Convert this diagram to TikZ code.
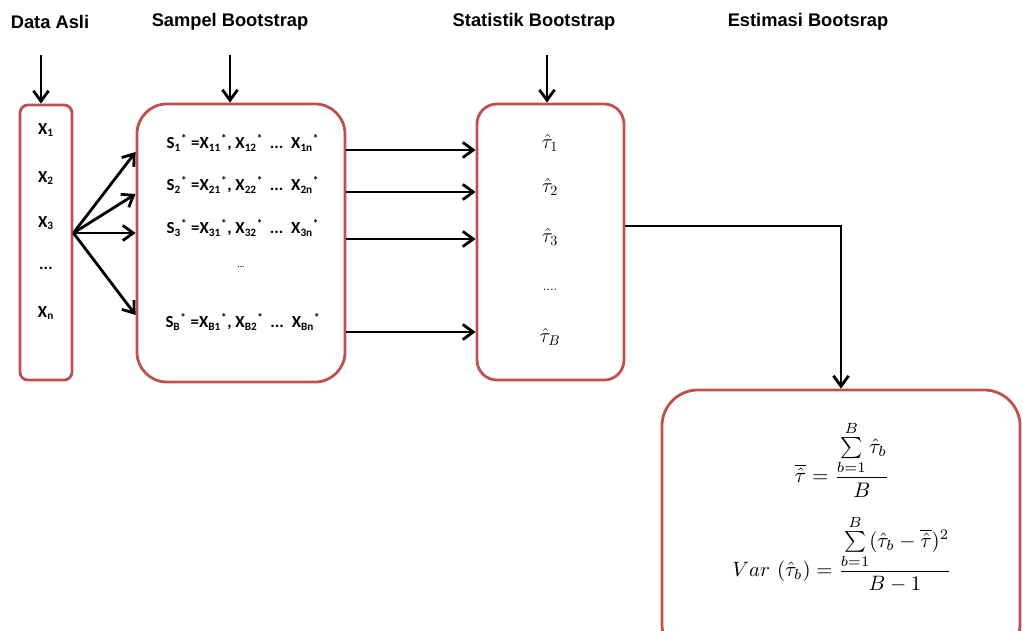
\documentclass[tikz,border=0pt]{standalone}
\usepackage{amsmath}
\usepackage{graphicx}
\usepackage{fontspec}
\usetikzlibrary{arrows.meta}
\newfontfamily\headfont{Liberation Sans}
\newfontfamily\itemfont{Carlito}
\definecolor{boxred}{RGB}{192,80,77}
\newcommand{\smp}[4]{S\textsubscript{#1}\textsuperscript{*} =X\textsubscript{#2}\textsuperscript{*}, X\textsubscript{#3}\textsuperscript{*} \,...\, X\textsubscript{#4}\textsuperscript{*}}
\tikzset{
	box/.style={draw=boxred, fill=white, line width=2pt},
	arr/.style={line width=2pt, -{Straight Barb[length=2.6mm, width=3.8mm]}},
	head/.style={font=\headfont\bfseries\fontsize{13}{15}\selectfont},
	item/.style={font=\itemfont\bfseries\fontsize{12}{14}\selectfont},
}
\begin{document}
\begin{tikzpicture}[x=0.025cm, y=-0.025cm]
		\useasboundingbox (0, 0) rectangle (1023, 630);
		\clip (0, 0) rectangle (1023, 630);
		\node[head] (hData) at (50, 22) {Data Asli};
		\node[head] (hSamp) at (230, 22) {Sampel Bootstrap};
		\node[head] (hStat) at (534, 22) {Statistik Bootstrap};
		\node[head] (hEst) at (808, 22) {Estimasi Bootsrap};
		\node[box, rounded corners=2mm, minimum width=1.3cm, minimum height=6.875cm] (data) at (46, 242.5) {};
		\node[box, rounded corners=7.5mm, minimum width=5.2cm, minimum height=6.95cm] (samp) at (241, 243) {};
		\node[box, rounded corners=5mm, minimum width=3.675cm, minimum height=6.9cm] (stat) at (550.5, 242) {};
		\node[box, rounded corners=9mm, minimum width=8.95cm, minimum height=6.75cm] (est) at (841, 525) {};
		\foreach \y/\s [count=\i] in {130/1, 178/2, 223/3, 313/n} {
			\node[item] (x\i) at (46, \y) {X\textsubscript{\s}};
		}
		\node[item] (xdots) at (46, 268) {...};
		\foreach \y/\a/\b/\c/\d [count=\i] in {143/1/11/12/1n, 185/2/21/22/2n, 228/3/31/32/3n, 322/B/B1/B2/Bn} {
			\node[item] (s\i) at (243, \y) {\smp{\a}{\b}{\c}{\d}};
		}
		\node[item, font=\itemfont\scriptsize] (sdots) at (241, 267) {...};
		\foreach \y/\s [count=\i] in {143/1, 187/2, 237/3, 337/B} {
			\node[font=\Large] (t\i) at (550, \y) {$\hat{\tau}_{\s}$};
		}
		\node[font=\small] (tdots) at (550, 290) {....};
		\node (mean) at (842, 459) {\scalebox{1.5}{$\displaystyle \overline{\hat{\tau}} = \frac{\sum\limits_{b=1}^{B} \hat{\tau}_b}{B}$}};
		\node (var) at (842, 554) {\scalebox{1.48}{$\displaystyle Var\ (\hat{\tau}_b) = \frac{\sum\limits_{b=1}^{B} (\hat{\tau}_b - \overline{\hat{\tau}})^2}{B-1}$}};
		\draw[arr] (41, 55) -- (41,0 |- data.north);
		\draw[arr] (230, 55) -- (230,0 |- samp.north);
		\draw[arr] (547, 55) -- (547,0 |- stat.north);
		\coordinate (fan) at (data.east |- 0,233);
		\foreach \y in {152, 194, 233, 315} {
			\draw[arr] (fan) -- (samp.west |- 0,\y);
		}
		\foreach \y in {150, 192, 239, 332} {
			\draw[arr] (samp.east |- 0,\y) -- (stat.west |- 0,\y);
		}
		\draw[arr] (stat.east |- 0,226) -| (est.north);
\end{tikzpicture}
\end{document}
